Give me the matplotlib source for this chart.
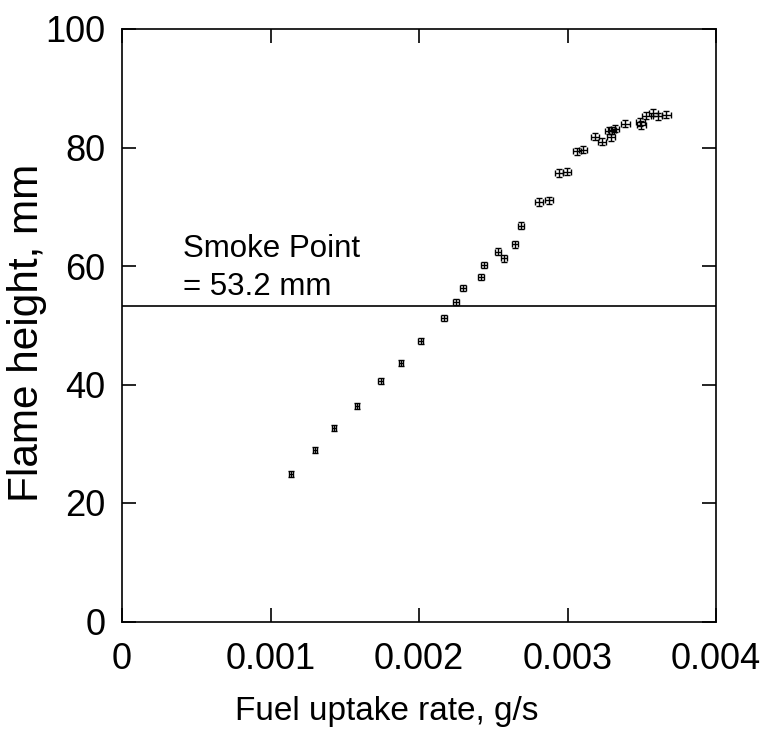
import numpy as np
import matplotlib.pyplot as plt

plt.rcParams['font.family'] = ['Liberation Sans', 'DejaVu Sans']

# fuel uptake rate (g/s) and flame height (mm)
fuel_rate = [0.001137, 0.001298, 0.001426, 0.001581, 0.001743, 0.001878,
             0.002012, 0.002168, 0.002249, 0.002296, 0.002417, 0.002437,
             0.002532, 0.002572, 0.002646, 0.002687, 0.002808, 0.002876,
             0.002943, 0.002997, 0.003065, 0.003106, 0.003183, 0.003232,
             0.003291, 0.003282, 0.003300, 0.003322, 0.003390, 0.003491,
             0.003497, 0.003529, 0.003578, 0.003608, 0.003666]
flame_h = [24.9, 28.9, 32.6, 36.4, 40.6, 43.6,
           47.3, 51.2, 53.9, 56.3, 58.1, 60.2,
           62.4, 61.3, 63.7, 66.8, 70.8, 71.1,
           75.7, 75.9, 79.4, 79.6, 81.8, 81.0,
           81.7, 82.8, 82.9, 83.2, 84.0, 84.3,
           83.8, 85.4, 85.9, 85.3, 85.5]
rate_err = [0.000014, 0.000014, 0.000015, 0.000015, 0.000016, 0.000016,
            0.000017, 0.000018, 0.000018, 0.000019, 0.000019, 0.000020,
            0.000021, 0.000022, 0.000022, 0.000023, 0.000024, 0.000025,
            0.000026, 0.000026, 0.000027, 0.000027, 0.000028, 0.000028,
            0.000028, 0.000028, 0.000028, 0.000028, 0.000029, 0.000029,
            0.000029, 0.000030, 0.000030, 0.000030, 0.000030]
height_err = [0.5] * 12 + [0.6] * 23

smoke_point = 53.2

fig = plt.figure(figsize=(7.66, 7.33), dpi=100)
ax = fig.add_axes([122/766, 1 - 621.5/733, 594/766, 592.5/733])

# error bars with caps make the little box glyphs
ax.errorbar(fuel_rate, flame_h, xerr=rate_err, yerr=height_err, fmt='none',
            ecolor='black', elinewidth=1.0, capsize=2.5, capthick=1.0)
ax.axhline(smoke_point, color='black', lw=1.2)
ax.text(0.00041, 55.1, 'Smoke Point\n= 53.2 mm', fontsize=22.5, ha='left',
        va='baseline', linespacing=1.35)

ax.set_xlim(0, 0.004)
ax.set_ylim(0, 100)
ax.set_xticks([0, 0.001, 0.002, 0.003, 0.004])
ax.set_xticklabels(['0', '0.001', '0.002', '0.003', '0.004'])
ax.set_yticks([0, 20, 40, 60, 80, 100])
ax.tick_params(direction='in', length=10, width=1.2, labelsize=26,
               top=True, right=True)
ax.tick_params(axis='x', pad=15)
ax.tick_params(axis='y', pad=12)
for s in ax.spines.values():
    s.set_linewidth(1.2)

ax.set_xlabel('Fuel uptake rate, g/s', fontsize=24)
ax.set_ylabel('Flame height, mm', fontsize=30.5)
ax.xaxis.set_label_coords(0.446, -0.125)
ax.yaxis.set_label_coords(-0.1266, 0.487)

fig.savefig('out.png', dpi=100)
